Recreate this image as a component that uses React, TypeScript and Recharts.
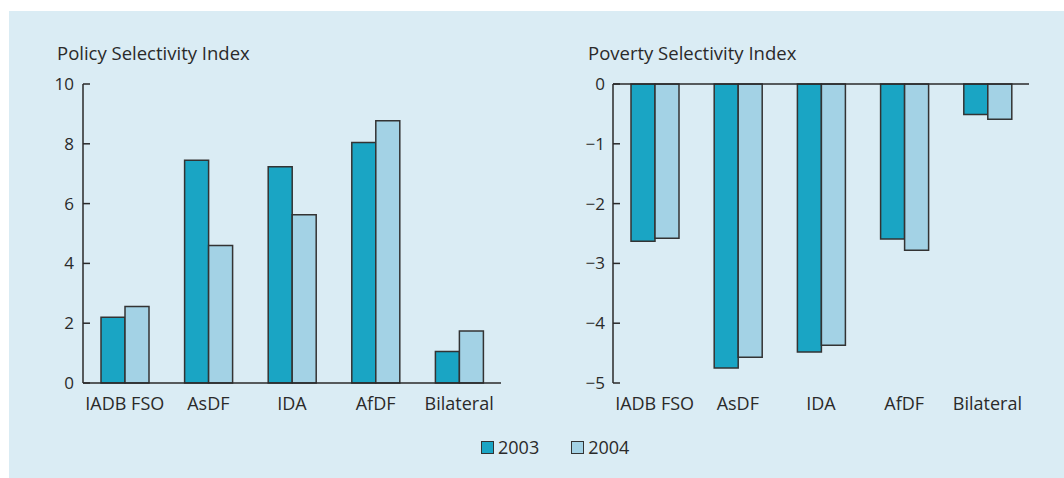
import React from 'react';
import { BarChart, Bar, XAxis, YAxis, ReferenceLine } from 'recharts';

const categories = ['IADB FSO', 'AsDF', 'IDA', 'AfDF', 'Bilateral'];
const policy2003 = [2.2, 7.45, 7.23, 8.04, 1.05];
const policy2004 = [2.56, 4.6, 5.63, 8.77, 1.74];
const poverty2003 = [-2.63, -4.75, -4.48, -2.59, -0.51];
const poverty2004 = [-2.58, -4.57, -4.37, -2.78, -0.59];
const policyTicks = [0, 2, 4, 6, 8, 10];
const povertyTicks = [0, -1, -2, -3, -4, -5];
const seriesNames = ['2003', '2004'];

const C2003 = '#1aa5c4';
const C2004 = '#a3d2e5';
const BG = '#daecf4';
const INK = '#2a2a2a';
const FONT = '"Open Sans", sans-serif';

const policyData = categories.map((c, i) => ({ name: c, y2003: policy2003[i], y2004: policy2004[i] }));
const povertyData = categories.map((c, i) => ({ name: c, y2003: poverty2003[i], y2004: poverty2004[i] }));

const yTickStyle = { fill: INK, fontSize: 17, fontFamily: FONT };
const xTickStyle = { fill: INK, fontSize: 18, fontFamily: FONT };
const fmtMinus = (v: number) => String(v).replace('-', '\u2212');

export default function App() {
  return (
    <div style={{ position: 'absolute', left: 0, top: 0, width: 1064, height: 478, background: '#fff', fontFamily: FONT }}>
      <div style={{ position: 'absolute', left: 9, top: 11, width: 1055, height: 467, background: BG }} />
      <div style={{ position: 'absolute', left: 57, top: 43.6, fontSize: 18.5, lineHeight: 1, color: INK, whiteSpace: 'nowrap' }}>Policy Selectivity Index</div>
      <div style={{ position: 'absolute', left: 588, top: 43.6, fontSize: 18.5, lineHeight: 1, color: INK, whiteSpace: 'nowrap' }}>Poverty Selectivity Index</div>
      <div style={{ position: 'absolute', left: 0, top: 0 }}>
        <BarChart width={520} height={440} data={policyData} margin={{ top: 84, right: 19, bottom: 27, left: 43 }} barGap={0} barSize={24}>
          <XAxis dataKey="name" tickLine={false} tickSize={0} tickMargin={14} axisLine={{ stroke: INK, strokeWidth: 1.5 }} tick={xTickStyle} interval={0} height={30} />
          <YAxis domain={[0, 10]} ticks={policyTicks} width={40} tickSize={-7} tickMargin={16} axisLine={{ stroke: INK, strokeWidth: 1.5 }} tickLine={{ stroke: INK, strokeWidth: 1.5 }} tick={yTickStyle} interval={0} />
          <Bar dataKey="y2003" fill={C2003} stroke="#333" strokeWidth={1.5} isAnimationActive={false} />
          <Bar dataKey="y2004" fill={C2004} stroke="#333" strokeWidth={1.5} isAnimationActive={false} />
        </BarChart>
      </div>
      <div style={{ position: 'absolute', left: 530, top: 0 }}>
        <BarChart width={520} height={440} data={povertyData} margin={{ top: 84, right: 21, bottom: 27, left: 43 }} barGap={0} barSize={24}>
          <XAxis dataKey="name" tickLine={false} tickSize={0} tickMargin={14} axisLine={false} tick={xTickStyle} interval={0} height={30} />
          <YAxis domain={[-5, 0]} ticks={povertyTicks} width={40} tickSize={-7} tickMargin={15} axisLine={{ stroke: INK, strokeWidth: 1.5 }} tickLine={{ stroke: INK, strokeWidth: 1.5 }} tick={yTickStyle} interval={0} tickFormatter={fmtMinus} />
          <ReferenceLine y={0} stroke={INK} strokeWidth={1.5} />
          <Bar dataKey="y2003" fill={C2003} stroke="#333" strokeWidth={1.5} isAnimationActive={false} />
          <Bar dataKey="y2004" fill={C2004} stroke="#333" strokeWidth={1.5} isAnimationActive={false} />
        </BarChart>
      </div>
      <div style={{ position: 'absolute', left: 481, top: 435, height: 24, display: 'flex', alignItems: 'center', fontSize: 18, color: INK, lineHeight: 1 }}>
        <span style={{ width: 11, height: 11, background: C2003, border: '1.5px solid #333', display: 'inline-block' }} />
        <span style={{ marginLeft: 4 }}>{seriesNames[0]}</span>
        <span style={{ width: 11, height: 11, background: C2004, border: '1.5px solid #333', display: 'inline-block', marginLeft: 32 }} />
        <span style={{ marginLeft: 4 }}>{seriesNames[1]}</span>
      </div>
    </div>
  );
}
